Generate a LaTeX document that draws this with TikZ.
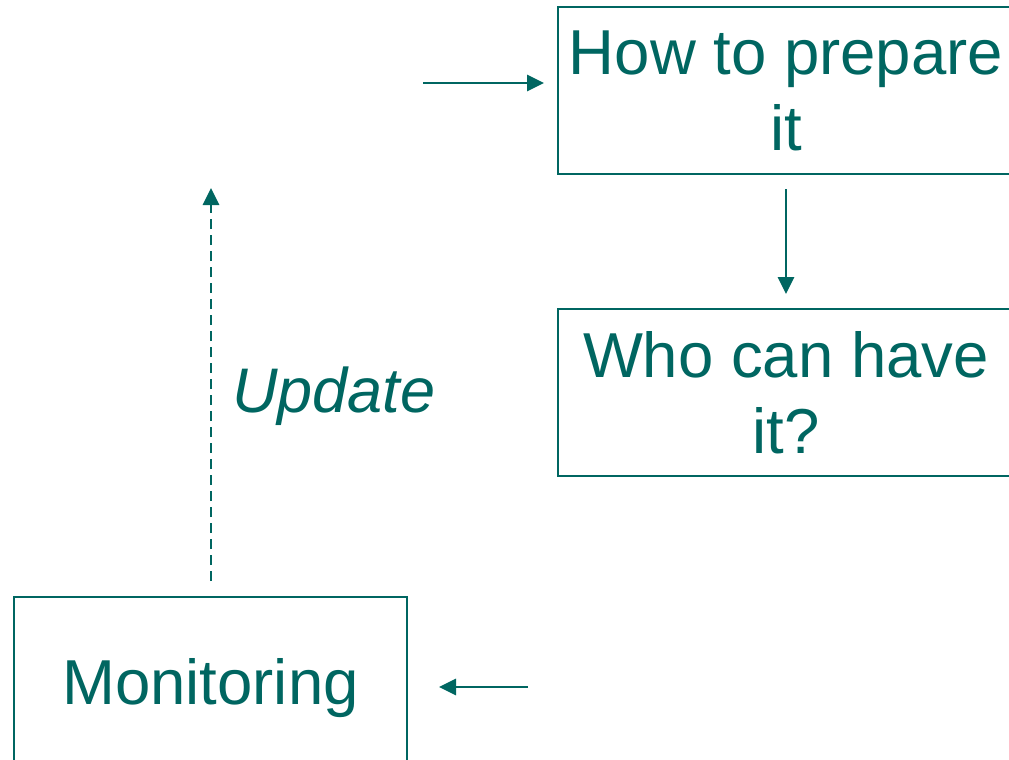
\documentclass[tikz,border=0pt]{standalone}
\usepackage{fontspec}
\setmainfont{Liberation Sans}
\usetikzlibrary{arrows.meta}
\definecolor{teal}{RGB}{0,102,97}
\tikzset{
  box/.style={draw=teal, line width=2pt, inner sep=0pt, align=center, text=teal,
    font=\fontsize{63.5}{76}\selectfont},
  conn/.style={draw=teal, line width=2.8pt, -{Triangle[length=17pt,width=16pt]}},
  lbl/.style={text=teal, inner sep=0pt, font=\fontsize{63}{70}\selectfont\itshape}
}
\begin{document}
\begin{tikzpicture}[x=1pt,y=-1pt]
\useasboundingbox (0,0) rectangle (1009,760);
\clip (0,0) rectangle (1009,760);
\node[box, minimum width=456pt, minimum height=167pt] (prep) at (786,90.5) {How to prepare\\it};
\node[box, minimum width=456pt, minimum height=167pt] (who) at (786,392.5) {Who can have\\it?};
\node[box, minimum width=393pt, minimum height=182pt] (mon) at (210.5,688) {Monitoring};
\coordinate (a1) at (423,83);
\coordinate (c1) at (528,687);
\coordinate (d1) at (211,188);
\draw[conn, shorten >=13pt] (a1) -- (a1 -| prep.west);
\draw[conn, shorten <=14pt, shorten >=14pt] (prep.south) -- (who.north);
\draw[conn, shorten >=31pt] (c1) -- (c1 -| mon.east);
\draw[conn, dash pattern=on 10pt off 6pt, shorten <=15pt] (mon.north -| d1) -- (d1);
\node[lbl, anchor=base west] (upd) at (232,412) {Update};
\end{tikzpicture}
\end{document}
